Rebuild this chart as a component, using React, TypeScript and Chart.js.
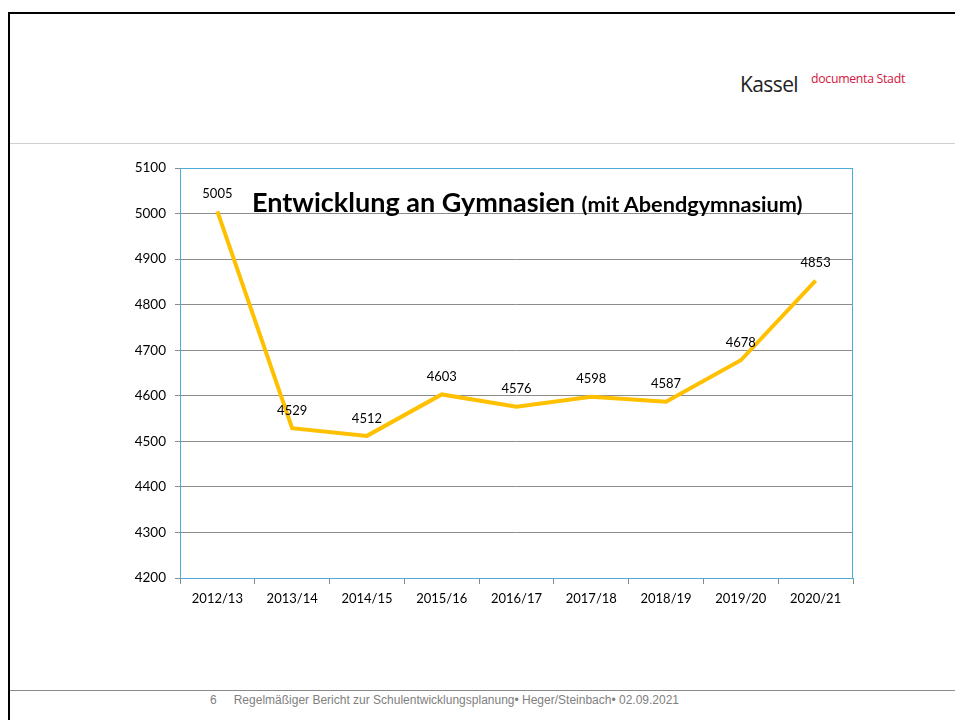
import React, { useEffect, useRef } from "react";
import { Chart, registerables } from "chart.js";

Chart.register(...registerables);

const categories = ["2012/13", "2013/14", "2014/15", "2015/16", "2016/17", "2017/18", "2018/19", "2019/20", "2020/21"];
const pupils = [5005, 4529, 4512, 4603, 4576, 4598, 4587, 4678, 4853];
const yMin = 4200;
const yMax = 5100;
const yStep = 100;

const FONT = "Lato, 'Open Sans', sans-serif";

const frameAndLabels = {
  id: "frameAndLabels",
  beforeDatasetsDraw(chart: any) {
    const { ctx, chartArea } = chart;
    ctx.save();
    ctx.strokeStyle = "#4FACDA";
    ctx.lineWidth = 1;
    ctx.beginPath();
    ctx.moveTo(chartArea.left + 0.5, chartArea.bottom);
    ctx.lineTo(chartArea.left + 0.5, chartArea.top + 0.5);
    ctx.lineTo(chartArea.right - 0.5, chartArea.top + 0.5);
    ctx.lineTo(chartArea.right - 0.5, chartArea.bottom);
    ctx.stroke();
    ctx.restore();
  },
  afterDatasetsDraw(chart: any) {
    const { ctx } = chart;
    const meta = chart.getDatasetMeta(0);
    ctx.save();
    ctx.fillStyle = "#000";
    ctx.font = `13px ${FONT}`;
    ctx.textAlign = "center";
    ctx.textBaseline = "bottom";
    meta.data.forEach((pt: any, i: number) => {
      ctx.fillText(String(pupils[i]), pt.x, pt.y - 11);
    });
    ctx.restore();
  },
};

function LineChart() {
  const ref = useRef<HTMLCanvasElement | null>(null);
  useEffect(() => {
    if (!ref.current) return;
    const chart = new Chart(ref.current, {
      type: "line",
      data: {
        labels: categories,
        datasets: [
          {
            data: pupils,
            borderColor: "#FFC000",
            borderWidth: 4,
            pointRadius: 0,
            tension: 0,
            fill: false,
          },
        ],
      },
      options: {
        animation: false,
        responsive: false,
        maintainAspectRatio: false,
        layout: { padding: { left: 0, right: 102, top: 28, bottom: 0 } },
        plugins: { legend: { display: false }, tooltip: { enabled: false } },
        scales: {
          x: {
            offset: true,
            grid: {
              offset: true,
              drawOnChartArea: false,
              drawTicks: true,
              tickLength: 6,
              color: "#888",
            },
            border: { display: true, color: "#4FACDA", width: 1 },
            ticks: { color: "#000", font: { family: FONT, size: 13 }, padding: 7, maxRotation: 0 },
            afterFit(scale: any) {
              scale.height = 52;
            },
          },
          y: {
            min: yMin,
            max: yMax,
            grid: { color: "#8c8c8c", tickLength: 5, lineWidth: 1 },
            border: { display: false },
            ticks: {
              stepSize: yStep,
              color: "#000",
              font: { family: FONT, size: 13.5 },
              padding: 9,
              callback: (v: any) => String(v),
            },
            afterFit(scale: any) {
              scale.width = 180;
            },
          },
        },
      },
      plugins: [frameAndLabels],
    });
    return () => chart.destroy();
  }, []);
  return <canvas ref={ref} width={955} height={490} style={{ position: "absolute", left: 0, top: 140, width: 955, height: 490 }} />;
}

export default function App() {
  return (
    <div style={{ position: "absolute", left: 0, top: 0, width: 955, height: 720, background: "#fff", overflow: "hidden", fontFamily: FONT }}>
      <div style={{ position: "absolute", left: 8, top: 12, width: 947, height: 2, background: "#000" }} />
      <div style={{ position: "absolute", left: 8, top: 12, width: 2, height: 708, background: "#000" }} />
      <div style={{ position: "absolute", left: 10, top: 143, width: 945, height: 1, background: "#cfcfcf" }} />
      <div style={{ position: "absolute", left: 10, top: 690, width: 945, height: 1, background: "#8a8a8a" }} />
      <div style={{ position: "absolute", left: 740, top: 70, fontSize: 21, color: "#222", fontFamily: "'Open Sans', sans-serif", fontWeight: 400, lineHeight: "28px", letterSpacing: -0.6 }}>Kassel</div>
      <div style={{ position: "absolute", left: 811, top: 71, fontSize: 12.3, color: "#D2163E", fontFamily: "'Open Sans', sans-serif", lineHeight: "16px", letterSpacing: -0.3 }}>documenta Stadt</div>
      <LineChart />
      <div style={{ position: "absolute", left: 252, top: 186, whiteSpace: "nowrap", color: "#000", fontWeight: 700, fontFamily: FONT, lineHeight: "32px" }}>
        <span style={{ fontSize: 27 }}>Entwicklung an Gymnasien </span>
        <span style={{ fontSize: 21.7 }}>(mit Abendgymnasium)</span>
      </div>
      <div style={{ position: "absolute", left: 210, top: 692, whiteSpace: "nowrap", fontSize: 12, color: "#808080", fontFamily: "'Liberation Sans Narrow', 'Liberation Sans', Arial, sans-serif", lineHeight: "16px" }}>
        6<span style={{ display: "inline-block", width: 17 }} />Regelmäßiger Bericht zur Schulentwicklungsplanung• Heger/Steinbach• 02.09.2021
      </div>
    </div>
  );
}
